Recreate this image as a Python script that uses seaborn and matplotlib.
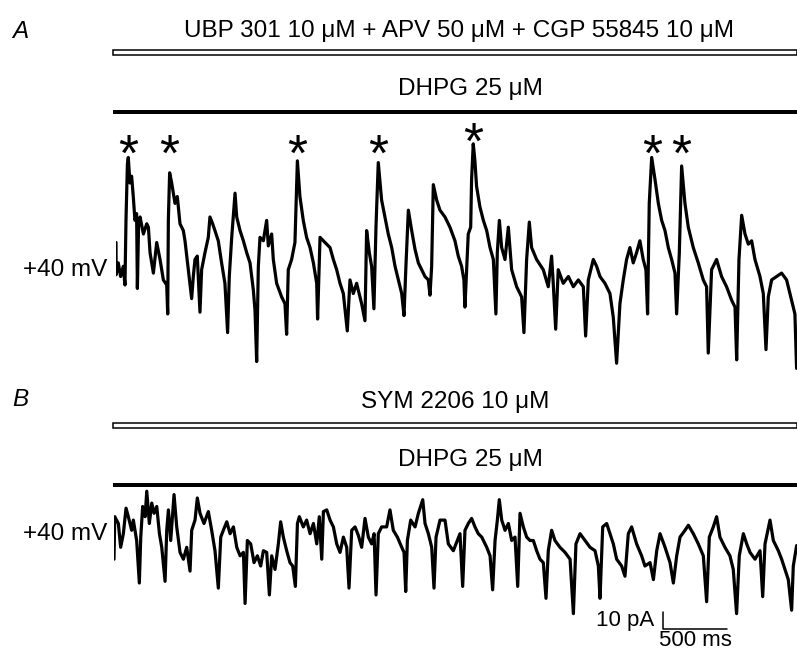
import matplotlib
matplotlib.use("Agg")
import matplotlib.pyplot as plt
import seaborn as sns
from matplotlib.patches import Rectangle

sns.set_theme(style="white")
plt.rcParams['font.family'] = ['Liberation Sans', 'DejaVu Sans']
plt.rcParams['text.color'] = 'black'

# ==========================================
# DATA
# time in ms, holding current in pA
# ==========================================
# A: UBP 301 + APV + CGP 55845, then DHPG
t_a = [0, 1, 18, 36, 57, 70, 78, 89, 96, 109, 122, 135, 148, 161, 167, 177, 188, 214, 240, 253,
       266, 292, 318, 344, 370, 396, 404, 409, 419, 435, 461, 479, 500, 526, 539, 565, 591, 604, 617, 635,
       656, 669, 695, 721, 734, 755, 773, 799, 825, 851, 872, 885, 904, 930, 943, 969, 995, 1021, 1047, 1073,
       1086, 1099, 1112, 1125, 1151, 1177, 1190, 1216, 1229, 1255, 1294, 1320, 1333, 1346, 1372, 1398, 1417, 1437, 1463, 1489,
       1516, 1542, 1568, 1575, 1594, 1633, 1672, 1698, 1724, 1750, 1776, 1807, 1828, 1854, 1880, 1919, 1945, 1958, 1979, 1997,
       2015, 2031, 2049, 2075, 2101, 2127, 2154, 2180, 2206, 2232, 2250, 2265, 2284, 2310, 2336, 2362, 2388, 2414, 2440, 2453,
       2466, 2479, 2505, 2531, 2570, 2609, 2648, 2674, 2700, 2718, 2726, 2752, 2771, 2778, 2791, 2804, 2817, 2843, 2870, 2896,
       2922, 2948, 2968, 2979, 2995, 3013, 3039, 3065, 3091, 3130, 3169, 3187, 3208, 3229, 3247, 3286, 3338, 3377, 3403, 3416,
       3435, 3455, 3494, 3534, 3573, 3612, 3651, 3669, 3690, 3729, 3755, 3781, 3820, 3859, 3885, 3911, 3937, 3963, 3989, 4015,
       4041, 4067, 4093, 4119, 4140, 4153, 4166, 4185, 4211, 4237, 4263, 4289, 4315, 4341, 4367, 4380, 4401, 4419, 4445, 4471,
       4510, 4549, 4588, 4614, 4627, 4653, 4692, 4731, 4770, 4810, 4836, 4849, 4867, 4888, 4914, 4940, 4966, 4992, 5031, 5057,
       5078, 5096, 5122, 5161, 5200, 5239, 5278, 5304, 5317]
i_a = [15, -4, 3, -5, 1, -10, 28, 61, 65, 50, 54, 42, 28, 32, -12, 28, 30, 20, 26, 24,
       9, -3, 15, 5, -7, -10, -27, 28, 56, 50, 38, 42, 26, 22, 16, -1, -18, -5, 5, 7,
       -26, -1, 9, 18, 30, 26, 22, 16, 3, -9, -38, -5, 18, 44, 30, 22, 16, 9, 3, -13,
       -25, -55, 1, 18, 16, 28, 13, 20, 5, -9, -17, -21, -39, -1, 5, 15, 63, 42, 28, 18,
       12, 3, -9, -30, 18, 15, 12, 5, -1, -9, -15, -37, -7, -15, -9, -21, -31, 22, 9, 1,
       -24, 24, 62, 40, 30, 20, 12, 1, -7, -15, -28, 1, 34, 22, 11, 3, -1, -5, -7, -16,
       1, 49, 40, 34, 30, 24, 16, 7, 1, -7, -23, 20, 24, 52, 73, 63, 48, 36, 28, 22,
       12, 5, -27, 9, 28, 12, 5, 24, -1, -11, -17, -38, 5, 27, 12, 5, -1, -11, 7, -9,
       -36, -1, -9, -5, -11, -7, -11, -40, -7, 5, 1, -5, -9, -15, -29, -56, -21, -7, 5, 12,
       3, 9, 16, 5, -1, -27, 38, 65, 52, 38, 28, 22, 12, 5, -3, -27, 9, 60, 38, 24,
       12, 3, -7, -11, -50, -1, 5, -5, -11, -19, -23, -54, 5, 31, 20, 14, 16, 5, -5, -15,
       -48, -17, -7, -5, -3, -7, -19, -27, -59]

# B: SYM 2206, then DHPG
t_b = [0, 6, 34, 52, 73, 94, 112, 138, 151, 177, 198, 209, 224, 243, 256, 276, 295, 313, 334, 355,
       373, 399, 412, 425, 443, 469, 490, 516, 542, 568, 594, 607, 633, 651, 672, 703, 737, 763, 789, 815,
       834, 854, 881, 907, 933, 959, 985, 1011, 1024, 1042, 1068, 1094, 1120, 1146, 1167, 1193, 1214, 1232, 1258, 1284,
       1302, 1323, 1349, 1375, 1396, 1417, 1433, 1448, 1479, 1505, 1532, 1558, 1584, 1604, 1623, 1636, 1662, 1688, 1714, 1740,
       1766, 1792, 1818, 1836, 1857, 1883, 1909, 1935, 1961, 1987, 2013, 2032, 2047, 2065, 2091, 2130, 2156, 2182, 2214, 2248,
       2266, 2279, 2292, 2318, 2352, 2378, 2412, 2430, 2456, 2482, 2500, 2516, 2547, 2586, 2612, 2651, 2703, 2724, 2742, 2768,
       2794, 2820, 2846, 2873, 2912, 2938, 2958, 2977, 2995, 3010, 3029, 3055, 3081, 3107, 3133, 3154, 3172, 3198, 3224, 3250,
       3276, 3302, 3328, 3354, 3375, 3393, 3419, 3445, 3484, 3524, 3563, 3589, 3609, 3641, 3680, 3719, 3758, 3784, 3797, 3818,
       3849, 3875, 3901, 3927, 3966, 3992, 4018, 4044, 4083, 4122, 4148, 4188, 4214, 4240, 4266, 4305, 4344, 4370, 4396, 4422,
       4461, 4487, 4526, 4565, 4604, 4630, 4651, 4682, 4708, 4734, 4773, 4812, 4838, 4864, 4885, 4917, 4943, 4969, 5008, 5047,
       5068, 5086, 5125, 5151, 5190, 5216, 5242, 5268, 5294, 5307, 5333]
i_b = [-16, 9, 5, -9, -1, 14, 9, 1, 7, -5, -30, -3, 15, 9, 24, 5, 17, 11, 15, -1,
       -9, -29, 1, 13, -5, 22, 3, -12, -16, -9, -23, 1, 7, 20, 11, 5, 12, 1, -11, -33,
       -3, 1, 6, -1, 3, -9, -14, -12, -42, -5, -7, -18, -14, -20, -11, -12, -37, -14, -22, -7,
       6, -3, -11, -18, -20, -32, 5, 9, 3, 7, -1, 5, -7, 9, -16, 12, 13, 7, 3, -7,
       -12, -3, -9, -33, 1, 3, -2, -9, 8, -3, -7, -1, -37, -1, 3, 3, 13, 1, -3, -9,
       -12, -35, -5, 7, 3, 11, 19, 5, -1, -9, -33, -3, 7, 7, -7, -11, -1, -32, 1, 5,
       8, 3, -1, -3, -9, -14, -34, -5, 7, 19, 7, 1, 5, -5, -3, -32, 11, 3, -3, -5,
       -5, -11, -16, -18, -39, -11, 1, -5, -9, -12, -16, -48, -7, -1, -5, -9, -11, -20, -39, 3,
       5, -1, -7, -16, -20, -26, -1, 3, -7, -14, -20, -18, -28, -11, -1, -9, -18, -30, -14, -3,
       1, 4, -1, -7, -14, -41, -3, 3, 9, -3, -9, -14, -22, -48, -14, -1, -7, -12, -16, -11,
       -38, -7, 7, -5, -11, -16, -22, -28, -46, -20, -8]

# peaks marked with an asterisk in A (ms)
star_times = [96, 419, 1417, 2049, 2791, 4185, 4419]

drug_a = "UBP 301 10 \u03bcM + APV 50 \u03bcM + CGP 55845 10 \u03bcM"
drug_b = "SYM 2206 10 \u03bcM"
dhpg = "DHPG 25 \u03bcM"
hold = "+40 mV"
scale_pa = 10
scale_ms = 500

# ==========================================
# FIGURE (laid out in pixels of a 797x652 picture)
# ==========================================
W, H = 797, 652
fig = plt.figure(figsize=(W / 100, H / 100), dpi=100)
MS_PER_PX = 7.8125
PA_PER_PX = 0.588
FS = 17.5


def px_axes(x0, y0, x1, y1, y_zero):
    ax = fig.add_axes([x0 / W, 1 - y1 / H, (x1 - x0) / W, (y1 - y0) / H])
    ax.set_xlim(0, (x1 - x0) * MS_PER_PX)
    ax.set_ylim((y_zero - y1) * PA_PER_PX, (y_zero - y0) * PA_PER_PX)
    ax.axis('off')
    return ax


def ftext(x, y, s, **kw):
    fig.text(x / W, 1 - y / H, s, fontsize=FS, **kw)


def drug_bars(y_open, y_solid):
    fig.add_artist(Rectangle((113 / W, 1 - (y_open + 4.5) / H), (W - 113) / W, 4.5 / H,
                             transform=fig.transFigure, facecolor='white',
                             edgecolor='black', lw=1.1))
    fig.add_artist(Rectangle((113 / W, 1 - (y_solid + 4) / H), (W - 113) / W, 4 / H,
                             transform=fig.transFigure, facecolor='black',
                             edgecolor='none'))


# ---- panel A ----
axA = px_axes(116, 100, 797, 380, 268)
sns.lineplot(x=t_a, y=i_a, ax=axA, color='black', lw=2.3, sort=False, estimator=None)
for t in star_times:
    peak = i_a[t_a.index(t)]
    axA.annotate('*', (t, max(peak + 6, 72)), xytext=(0, -18), textcoords='offset points',
                 ha='center', va='baseline', fontsize=37, annotation_clip=False)

ftext(20, 38, 'A', style='italic', ha='center', va='baseline')
ftext(459, 37, drug_a, ha='center', va='baseline')
ftext(470, 95, dhpg, ha='center', va='baseline')
ftext(107, 276, hold, ha='right', va='baseline')
drug_bars(50, 110)

# ---- panel B ----
axB = px_axes(114, 470, 797, 645, 532)
sns.lineplot(x=t_b, y=i_b, ax=axB, color='black', lw=2.3, sort=False, estimator=None)

ftext(20, 406, 'B', style='italic', ha='center', va='baseline')
ftext(455, 408, drug_b, ha='center', va='baseline')
ftext(470, 466, dhpg, ha='center', va='baseline')
ftext(107, 540, hold, ha='right', va='baseline')
drug_bars(423, 483)

# scale bar
sb_t, sb_i = 4289, -57
axB.plot([sb_t, sb_t, sb_t + scale_ms], [sb_i + scale_pa, sb_i, sb_i],
         color='black', lw=1.1, clip_on=False)
axB.annotate(f'{scale_pa} pA', (sb_t, sb_i + scale_pa / 2), xytext=(-6, 0),
             textcoords='offset points', ha='right', va='center', fontsize=16,
             annotation_clip=False)
axB.annotate(f'{scale_ms} ms', (sb_t + scale_ms / 2, sb_i), xytext=(0, -1),
             textcoords='offset points', ha='center', va='top', fontsize=16,
             annotation_clip=False)

fig.savefig('out.png', dpi=100)
